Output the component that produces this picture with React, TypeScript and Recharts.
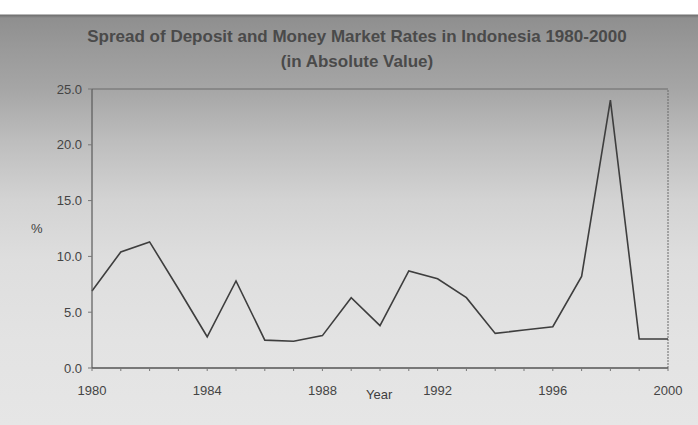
import { LineChart, Line, XAxis, YAxis, ReferenceLine } from "recharts";

const years = [
  1980, 1981, 1982, 1983, 1984, 1985, 1986, 1987, 1988, 1989, 1990,
  1991, 1992, 1993, 1994, 1995, 1996, 1997, 1998, 1999, 2000,
];
const spread = [
  6.9, 10.4, 11.3, 7.1, 2.8, 7.8, 2.5, 2.4, 2.9, 6.3, 3.8,
  8.7, 8.0, 6.3, 3.1, 3.4, 3.7, 8.2, 24.0, 2.6, 2.6,
];
const yTicks = [0, 5, 10, 15, 20, 25];
const labelYears = [1980, 1984, 1988, 1992, 1996, 2000];

const data = years.map((year, i) => ({ year, spread: spread[i] }));

const font = "'Liberation Sans', Arial, sans-serif";

export default function App() {
  return (
    <div
      style={{
        position: "absolute",
        top: 0,
        left: 0,
        width: 698,
        height: 425,
        overflow: "hidden",
        fontFamily: font,
        background:
          "linear-gradient(180deg, #ffffff 0px, #ffffff 14px, #707070 15px, #8f8f8f 18px, #9a9a9a 50px, #a6a6a6 90px, #bdbdbd 140px, #d3d3d3 200px, #dedede 260px, #e3e3e3 340px, #e6e6e6 425px)",
      }}
    >
      <div style={{ position: "absolute", top: 27, left: 0, width: 714, textAlign: "center", fontSize: 17, fontWeight: "bold", color: "#4a4a4a", whiteSpace: "nowrap" }}>
        Spread of Deposit and Money Market Rates in Indonesia 1980-2000
      </div>
      <div style={{ position: "absolute", top: 52, left: 0, width: 714, textAlign: "center", fontSize: 17, fontWeight: "bold", color: "#4a4a4a" }}>
        (in Absolute Value)
      </div>
      <div style={{ position: "absolute", top: 221, left: 31, fontSize: 13, color: "#3e3e3e" }}>%</div>
      <div style={{ position: "absolute", top: 387, left: 366, fontSize: 13, color: "#3e3e3e" }}>Year</div>
      <div style={{ position: "absolute", top: 0, left: 0 }}>
        <LineChart width={698} height={425} data={data} margin={{ top: 89, right: 30, bottom: 27, left: 44 }}>
          <XAxis
            dataKey="year"
            type="number"
            domain={[1980, 2000]}
            ticks={years}
            interval={0}
            tickFormatter={(v: number) => (labelYears.includes(v) ? String(v) : "")}
            tick={{ fill: "#444", fontSize: 13, fontFamily: font }}
            axisLine={{ stroke: "#555", strokeWidth: 1.5 }}
            tickLine={{ stroke: "#777" }}
            tickSize={3}
            tickMargin={15}
            height={30}
          />
          <YAxis
            type="number"
            domain={[0, 25]}
            ticks={yTicks}
            tickFormatter={(v: number) => v.toFixed(1)}
            tick={{ fill: "#444", fontSize: 13, fontFamily: font }}
            axisLine={{ stroke: "#5a5a5a", strokeWidth: 1.2 }}
            tickLine={{ stroke: "#777" }}
            tickSize={4}
            tickMargin={6}
            width={48}
          />
          <ReferenceLine y={25} stroke="#6a6a6a" strokeWidth={1} />
          <ReferenceLine x={2000} stroke="#6a6a6a" strokeWidth={1} strokeDasharray="2 1" />
          <Line
            type="linear"
            dataKey="spread"
            stroke="#3e3e3e"
            strokeWidth={1.6}
            dot={false}
            isAnimationActive={false}
          />
        </LineChart>
      </div>
    </div>
  );
}
